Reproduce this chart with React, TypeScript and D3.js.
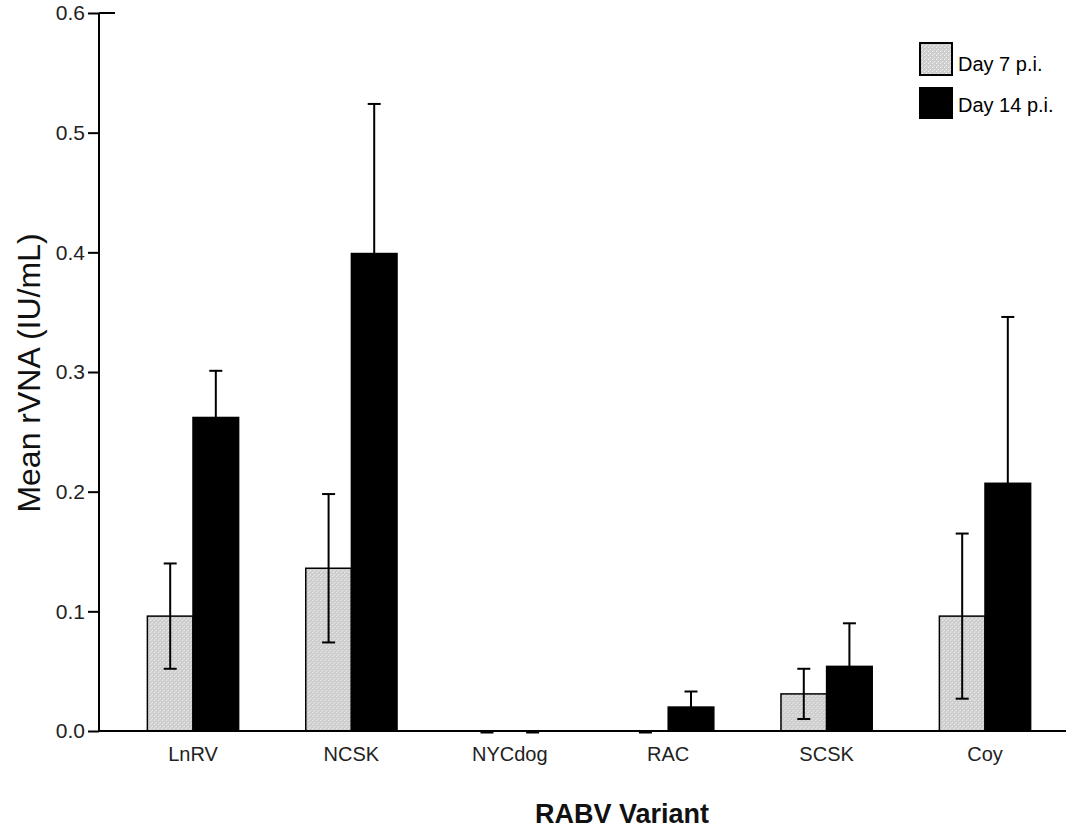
import React, { useRef, useEffect } from 'react';
import * as d3 from 'd3';

// values
const categories = ['LnRV', 'NCSK', 'NYCdog', 'RAC', 'SCSK', 'Coy'];
const seriesNames = ['Day 7 p.i.', 'Day 14 p.i.'];
const day7 = [0.096, 0.136, 0, 0, 0.031, 0.096];
const day7Err = [0.044, 0.062, 0, 0, 0.021, 0.069];
const day14 = [0.262, 0.399, 0, 0.02, 0.054, 0.207];
const day14Err = [0.039, 0.125, 0, 0.013, 0.036, 0.139];
const yTicks = [0, 0.1, 0.2, 0.3, 0.4, 0.5, 0.6];

const App = () => {
  const svgRef = useRef<SVGSVGElement>(null);

  useEffect(() => {
    const svg = d3.select(svgRef.current);
    svg.selectAll('*').remove();

    const font = 'Arial, "Liberation Sans", sans-serif';

    const y = d3.scaleLinear().domain([0, 0.6]).range([731, 13]);
    const x0 = d3.scaleBand().domain(categories).range([113.8, 1064.2]).padding(0);
    const bw = x0.bandwidth();
    const x1 = d3.scaleBand().domain(seriesNames).range([bw * 0.212, bw * 0.788]).padding(0);

    // dotted light-grey fill
    const defs = svg.append('defs');
    const pat = defs.append('pattern')
      .attr('id', 'dots')
      .attr('width', 4)
      .attr('height', 4)
      .attr('patternUnits', 'userSpaceOnUse');
    pat.append('rect').attr('width', 4).attr('height', 4).attr('fill', '#cdcdcd');
    pat.append('rect').attr('x', 0).attr('y', 0).attr('width', 1).attr('height', 1).attr('fill', '#f4f4f4');
    pat.append('rect').attr('x', 2).attr('y', 2).attr('width', 1).attr('height', 1).attr('fill', '#f4f4f4');
    pat.append('rect').attr('x', 1).attr('y', 3).attr('width', 1).attr('height', 1).attr('fill', '#e4e4e4');

    const rows = categories.map((c, i) => ({
      cat: c,
      vals: [
        { s: seriesNames[0], v: day7[i], e: day7Err[i] },
        { s: seriesNames[1], v: day14[i], e: day14Err[i] },
      ],
    }));
    const fill = (s: string) => (s === seriesNames[0] ? 'url(#dots)' : '#000');

    // bars
    const groups = svg.append('g')
      .selectAll('g')
      .data(rows)
      .enter()
      .append('g')
      .attr('transform', d => `translate(${x0(d.cat)},0)`);

    groups.selectAll('rect')
      .data(d => d.vals.filter(v => v.v > 0))
      .enter()
      .append('rect')
      .attr('x', d => x1(d.s)!)
      .attr('y', d => y(d.v))
      .attr('width', x1.bandwidth())
      .attr('height', d => y(0) - y(d.v))
      .attr('fill', d => fill(d.s))
      .attr('stroke', '#000')
      .attr('stroke-width', 1.5);

    // error bars (zero values leave only a cap on the baseline)
    const cap = 6.5;
    const err = groups.selectAll('g.err')
      .data(d => d.vals)
      .enter()
      .append('g')
      .attr('class', 'err')
      .attr('transform', d => `translate(${x1(d.s)! + x1.bandwidth() / 2},0)`);
    err.append('line')
      .attr('x1', 0).attr('x2', 0)
      .attr('y1', d => y(d.v - d.e)).attr('y2', d => y(d.v + d.e))
      .attr('stroke', '#000').attr('stroke-width', 2);
    err.append('line')
      .attr('x1', -cap).attr('x2', cap)
      .attr('y1', d => y(d.v + d.e) + (d.e === 0 ? 1.5 : 0))
      .attr('y2', d => y(d.v + d.e) + (d.e === 0 ? 1.5 : 0))
      .attr('stroke', '#000').attr('stroke-width', 2);
    err.filter(d => d.e > 0).append('line')
      .attr('x1', -cap).attr('x2', cap)
      .attr('y1', d => y(d.v - d.e)).attr('y2', d => y(d.v - d.e))
      .attr('stroke', '#000').attr('stroke-width', 2);

    // x axis line
    svg.append('line')
      .attr('x1', 99).attr('x2', 1066)
      .attr('y1', y(0)).attr('y2', y(0))
      .attr('stroke', '#000').attr('stroke-width', 2);

    // category labels
    svg.append('g')
      .selectAll('text')
      .data(categories)
      .enter()
      .append('text')
      .attr('x', d => x0(d)! + bw / 2)
      .attr('y', 761)
      .attr('text-anchor', 'middle')
      .attr('font-family', font)
      .attr('font-size', 20)
      .attr('fill', '#222')
      .text(d => d);

    // y axis
    const yAxis = svg.append('g')
      .attr('transform', 'translate(99,0)')
      .call(d3.axisLeft(y).tickValues(yTicks).tickFormat(d3.format('.1f')).tickSize(11).tickPadding(3));
    yAxis.select('.domain').attr('stroke-width', 2).attr('d', `M0,${y(0.6)}V${y(0)}`);
    yAxis.selectAll('.tick line').attr('stroke-width', 2);
    yAxis.selectAll('.tick text')
      .attr('font-family', font)
      .attr('font-size', 21)
      .attr('fill', '#222');
    svg.append('line')
      .attr('x1', 99).attr('x2', 115)
      .attr('y1', y(0.6)).attr('y2', y(0.6))
      .attr('stroke', '#000').attr('stroke-width', 2);

    // axis titles
    svg.append('text')
      .attr('transform', 'translate(40,373) rotate(-90)')
      .attr('text-anchor', 'middle')
      .attr('font-family', font)
      .attr('font-size', 32)
      .attr('fill', '#111')
      .text('Mean rVNA (IU/mL)');

    svg.append('text')
      .attr('x', 622)
      .attr('y', 823)
      .attr('text-anchor', 'middle')
      .attr('font-family', font)
      .attr('font-size', 27)
      .attr('font-weight', 'bold')
      .attr('fill', '#111')
      .text('RABV Variant');

    // legend
    const legend = svg.append('g').attr('transform', 'translate(920,43)');
    seriesNames.forEach((s, i) => {
      legend.append('rect')
        .attr('x', 0)
        .attr('y', i * 45)
        .attr('width', 32)
        .attr('height', i === 0 ? 32 : 30)
        .attr('fill', fill(s))
        .attr('stroke', '#000')
        .attr('stroke-width', 2);
      legend.append('text')
        .attr('x', 38)
        .attr('y', 28 + i * 41)
        .attr('font-family', font)
        .attr('font-size', 20)
        .attr('fill', '#000')
        .text(s);
    });
  }, []);

  return (
    <svg
      ref={svgRef}
      width={1068}
      height={831}
      style={{ position: 'absolute', left: 0, top: 0, background: '#fff' }}
    />
  );
};

export default App;
